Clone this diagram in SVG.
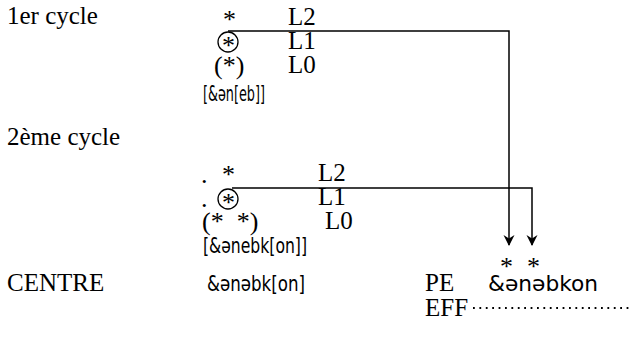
<svg xmlns="http://www.w3.org/2000/svg" width="630" height="341" viewBox="0 0 630 341">
<defs>
<style>
.t{font-family:"Liberation Serif","Times New Roman",serif;font-size:25px;fill:#000}
.st{font-family:"Liberation Serif","Times New Roman",serif;font-size:26px;fill:#000}
.p{font-family:"DejaVu Sans","Noto Sans",sans-serif;font-size:21px;fill:#000}
.ln{fill:none;stroke:#000;stroke-width:1.5}
.c{fill:none;stroke:#000;stroke-width:1.3}
</style>
<marker id="ah" viewBox="0 0 12 12" refX="11" refY="6" markerWidth="12" markerHeight="12" markerUnits="userSpaceOnUse" orient="auto">
<path d="M1,0.5 L12,6 L1,11.5 L4.5,6 Z" fill="#000"/>
</marker>
</defs>
<g id="labels">
<text class="t" x="7" y="24">1er cycle</text>
<text class="t" x="7" y="145">2ème cycle</text>
<text class="t" x="7" y="291">CENTRE</text>
</g>
<g id="cycle1">
<text class="st" x="223" y="28">*</text>
<text class="t" x="288" y="25">L2</text>
<circle class="c" cx="228" cy="42" r="10"/>
<text class="st" x="222" y="54">*</text>
<text class="t" x="288" y="49">L1</text>
<text class="st" x="214" y="74">(*)</text>
<text class="t" x="288" y="73">L0</text>
<text class="p" x="203" y="101" textLength="62" lengthAdjust="spacingAndGlyphs">[&amp;ən[eb]]</text>
</g>
<g id="cycle2">
<text class="st" x="201" y="183">.</text>
<text class="st" x="222" y="183">*</text>
<text class="t" x="318" y="181">L2</text>
<text class="st" x="201" y="207">.</text>
<circle class="c" cx="228" cy="199" r="10"/>
<text class="st" x="222" y="211">*</text>
<text class="t" x="318" y="205">L1</text>
<text class="st" x="202" y="230" xml:space="preserve">(*  *)</text>
<text class="t" x="325" y="229">L0</text>
<text class="p" x="203" y="253" textLength="104" lengthAdjust="spacingAndGlyphs">[&amp;ənebk[on]]</text>
<text class="p" x="207" y="291" textLength="98" lengthAdjust="spacingAndGlyphs">&amp;ənəbk[on]</text>
</g>
<g id="result">
<text class="st" x="500" y="275">*</text>
<text class="st" x="527" y="275">*</text>
<text class="t" x="425" y="291">PE</text>
<text class="p" x="488" y="291" textLength="110" lengthAdjust="spacingAndGlyphs">&amp;ənəbkon</text>
<text class="t" x="425" y="316">EFF</text>
</g>
<g id="connectors">
<path class="ln" d="M228,31 H509 V245" marker-end="url(#ah)"/>
<path class="ln" d="M232,188 H532 V245" marker-end="url(#ah)"/>
<line x1="473" y1="308" x2="630" y2="308" stroke="#000" stroke-width="1.8" stroke-dasharray="1.8 4.6"/>
</g>
</svg>
